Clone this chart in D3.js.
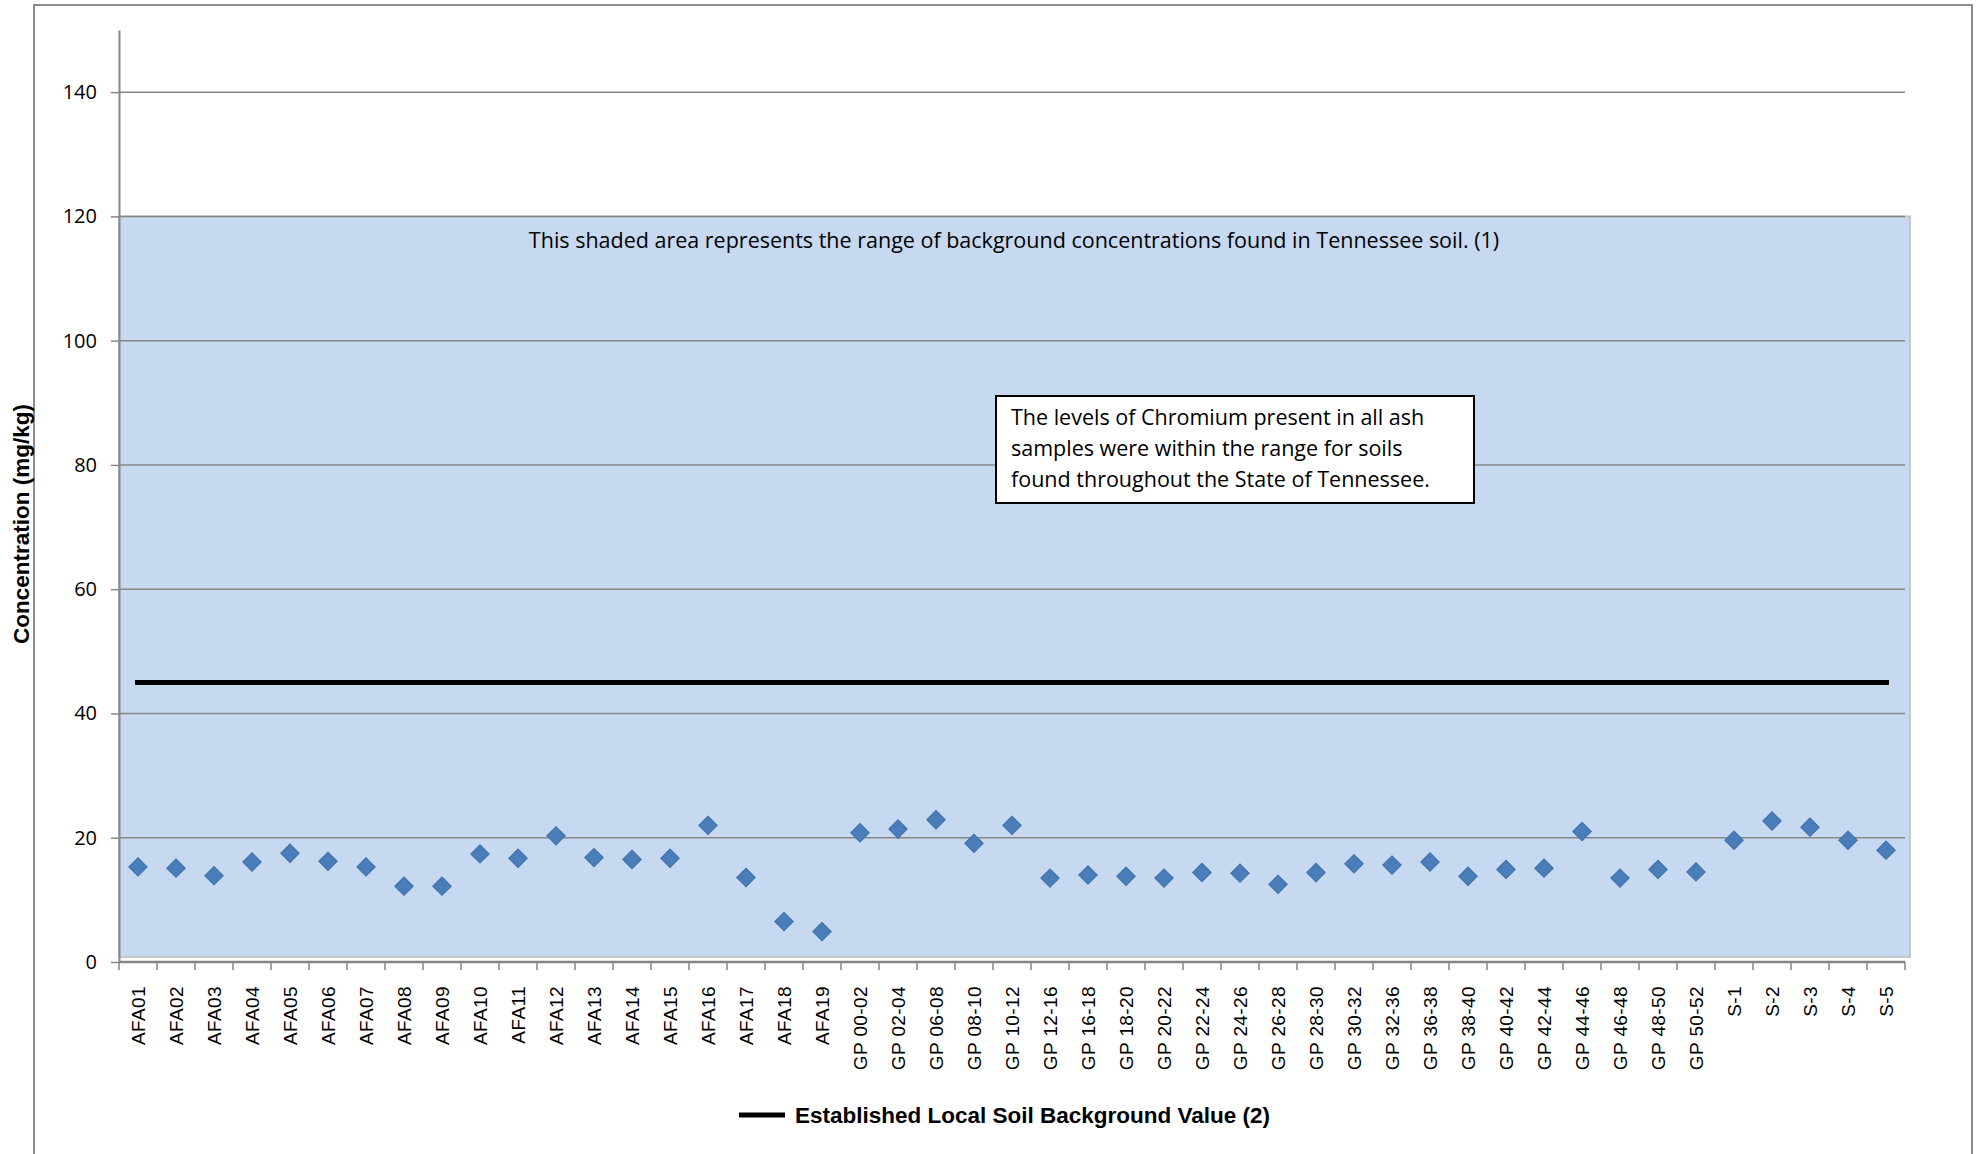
<!DOCTYPE html>
<html>
<head>
<meta charset="utf-8">
<script src="https://cdn.jsdelivr.net/npm/d3@7"></script>
<style>
  body { margin: 0; background: #fff; }
  svg { display: block; }
</style>
</head>
<body>
<svg id="chart" width="1982" height="1154"></svg>
<script>
// sample ids along the x axis
const samples = [
    'AFA01', 'AFA02', 'AFA03', 'AFA04', 'AFA05', 'AFA06', 'AFA07', 'AFA08', 'AFA09', 'AFA10',
    'AFA11', 'AFA12', 'AFA13', 'AFA14', 'AFA15', 'AFA16', 'AFA17', 'AFA18', 'AFA19',
    'GP 00-02', 'GP 02-04', 'GP 06-08', 'GP 08-10', 'GP 10-12', 'GP 12-16', 'GP 16-18',
    'GP 18-20', 'GP 20-22', 'GP 22-24', 'GP 24-26', 'GP 26-28', 'GP 28-30', 'GP 30-32',
    'GP 32-36', 'GP 36-38', 'GP 38-40', 'GP 40-42', 'GP 42-44', 'GP 44-46', 'GP 46-48',
    'GP 48-50', 'GP 50-52', 'S-1', 'S-2', 'S-3', 'S-4', 'S-5'
]
// chromium concentration, mg/kg
const chromium = [
    15.3, 15.1, 13.9, 16.1, 17.5, 16.2, 15.3, 12.2, 12.2, 17.4,
    16.7, 20.3, 16.8, 16.5, 16.7, 22.0, 13.6, 6.5, 4.9,
    20.8, 21.4, 22.9, 19.1, 22.0, 13.5, 14.0,
    13.8, 13.5, 14.4, 14.3, 12.5, 14.4, 15.8,
    15.6, 16.1, 13.8, 14.9, 15.1, 21.0, 13.5,
    14.9, 14.5, 19.6, 22.7, 21.7, 19.6, 18.0
]
const backgroundValue = 45
const rangeTop = 120
const yTicks = [0, 20, 40, 60, 80, 100, 120, 140]

const shadedNote = 'This shaded area represents the range of background concentrations found in Tennessee soil. (1)'
const boxNote = [
    'The levels of Chromium present in all ash',
    'samples were within the range for soils',
    'found throughout the State of Tennessee.'
]
const legendLabel = 'Established Local Soil Background Value (2)'

const svg = d3.select('#chart')
const calibri = "'Open Sans', 'DejaVu Sans', sans-serif"
const arial = "'Liberation Sans', Arial, sans-serif"

// outer frame
svg.append('rect')
    .attr('x', 34).attr('y', 5)
    .attr('width', 1938).attr('height', 1160)
    .attr('fill', 'none')
    .attr('stroke', '#8c8c8c')
    .attr('stroke-width', 2)

const plot = { left: 119, right: 1905, top: 30, bottom: 962 }

const x = d3.scaleBand()
    .domain(samples)
    .range([plot.left, plot.right])
const y = d3.scaleLinear()
    .domain([0, 150])
    .range([plot.bottom, plot.top])

// shaded background range
svg.append('rect')
    .attr('x', plot.left)
    .attr('y', y(rangeTop))
    .attr('width', 1910 - plot.left)
    .attr('height', y(0) - y(rangeTop) - 5)
    .attr('fill', '#c6d9f0')
    .attr('stroke', '#c4c8cc')
    .attr('stroke-width', 2)

// gridlines
svg.append('g').selectAll('line')
    .data(yTicks.filter(d => d > 0))
    .enter()
    .append('line')
    .attr('x1', plot.left)
    .attr('x2', plot.right)
    .attr('y1', d => y(d))
    .attr('y2', d => y(d))
    .attr('stroke', '#868686')
    .attr('stroke-width', 1.5)

// y axis
const yAxis = svg.append('g')
    .attr('transform', 'translate(' + plot.left + ',0)')
    .call(d3.axisLeft(y).tickValues(yTicks).tickSize(8).tickPadding(14).tickSizeOuter(0))
yAxis.select('.domain').attr('stroke', '#868686').attr('stroke-width', 2)
yAxis.selectAll('.tick line').attr('stroke', '#868686').attr('stroke-width', 1.5)
yAxis.selectAll('.tick text')
    .attr('font-family', calibri)
    .attr('font-size', '20px')
    .attr('fill', '#000')

// x axis with ticks on band boundaries
const xAxis = svg.append('g')
    .attr('transform', 'translate(0,' + plot.bottom + ')')
xAxis.append('line')
    .attr('x1', plot.left).attr('x2', plot.right)
    .attr('y1', 0).attr('y2', 0)
    .attr('stroke', '#868686')
    .attr('stroke-width', 2.5)
xAxis.selectAll('line.tick')
    .data(samples.concat(['end']))
    .enter()
    .append('line')
    .attr('class', 'tick')
    .attr('x1', (d, i) => plot.left + i * x.step())
    .attr('x2', (d, i) => plot.left + i * x.step())
    .attr('y1', 0).attr('y2', 8)
    .attr('stroke', '#868686')
    .attr('stroke-width', 1.5)
xAxis.selectAll('text')
    .data(samples)
    .enter()
    .append('text')
    .text(d => d)
    .attr('transform', d => 'translate(' + (x(d) + x.bandwidth() / 2 + 7) + ',24) rotate(-90)')
    .attr('text-anchor', 'end')
    .attr('font-family', arial)
    .attr('font-size', '19px')
    .attr('letter-spacing', '0.4px')
    .attr('fill', '#000')

// background value line
svg.append('line')
    .attr('x1', x(samples[0]) + x.bandwidth() / 2 - 3)
    .attr('x2', x(samples[samples.length - 1]) + x.bandwidth() / 2 + 3)
    .attr('y1', y(backgroundValue))
    .attr('y2', y(backgroundValue))
    .attr('stroke', '#000')
    .attr('stroke-width', 5)

// sample points
const diamond = d3.symbol().type(d3.symbolSquare).size(170)
svg.append('g').selectAll('path')
    .data(samples)
    .enter()
    .append('path')
    .attr('d', diamond)
    .attr('transform', (d, i) => 'translate(' + (x(d) + x.bandwidth() / 2) + ',' + y(chromium[i]) + ') rotate(45)')
    .attr('fill', '#4a7ebb')
    .attr('stroke', '#3f6fa8')
    .attr('stroke-width', 1)

// shaded area note
svg.append('text')
    .text(shadedNote)
    .attr('x', 1014)
    .attr('y', 248)
    .attr('text-anchor', 'middle')
    .attr('font-family', calibri)
    .attr('font-size', '21.5px')
    .attr('fill', '#000')

// boxed note
svg.append('rect')
    .attr('x', 996).attr('y', 396)
    .attr('width', 478).attr('height', 107)
    .attr('fill', '#fff')
    .attr('stroke', '#000')
    .attr('stroke-width', 2)
svg.append('g').selectAll('text')
    .data(boxNote)
    .enter()
    .append('text')
    .text(d => d)
    .attr('x', 1011)
    .attr('y', (d, i) => 425 + i * 31)
    .attr('font-family', calibri)
    .attr('font-size', '21.5px')
    .attr('fill', '#000')

// y axis title
svg.append('text')
    .text('Concentration (mg/kg)')
    .attr('transform', 'translate(29,524) rotate(-90)')
    .attr('text-anchor', 'middle')
    .attr('font-family', arial)
    .attr('font-weight', 'bold')
    .attr('font-size', '22.5px')
    .attr('fill', '#000')

// legend
svg.append('line')
    .attr('x1', 739).attr('x2', 785)
    .attr('y1', 1115).attr('y2', 1115)
    .attr('stroke', '#000')
    .attr('stroke-width', 5)
svg.append('text')
    .text(legendLabel)
    .attr('x', 795)
    .attr('y', 1123)
    .attr('font-family', arial)
    .attr('font-weight', 'bold')
    .attr('font-size', '22.5px')
    .attr('fill', '#000')
</script>
</body>
</html>
